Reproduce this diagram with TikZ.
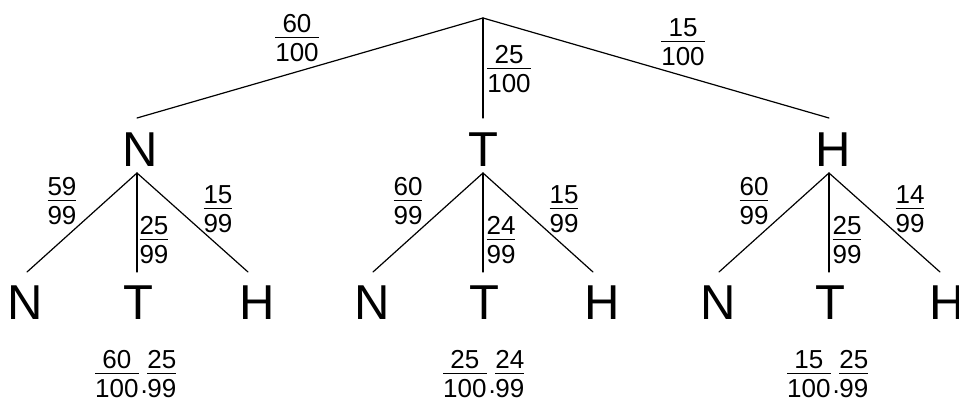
\documentclass[tikz,border=0pt]{standalone}
\usepackage{fontspec}
\setmainfont{Liberation Sans}
\newcommand\fr[2]{\vbox{\halign{\hfil##\hfil\cr #1\cr\noalign{\kern4.5pt\hrule height 1.4pt\kern5pt}#2\cr}}}
\newcommand\prodot{\kern2pt\raisebox{3.5pt}{.}\kern-0.5pt}
\tikzset{
  letter/.style={inner sep=0pt, anchor=base, font=\fontsize{49}{55}\selectfont},
  frac/.style={inner sep=0pt, anchor=base, yshift=-24.4pt, font=\fontsize{26}{30}\selectfont},
  prodlabel/.style={inner sep=0pt, anchor=base west, yshift=-24.4pt, font=\fontsize{26}{30}\selectfont},
  branch/.style={line width=1.2pt, line cap=round}
}
\begin{document}
\begin{tikzpicture}[x=1pt, y=-1pt]
\useasboundingbox (0,0) rectangle (959,399);
% tree points
\coordinate (r) at (483,18);
\coordinate (a1) at (137,118);
\coordinate (a2) at (483,118);
\coordinate (a3) at (829,118);
\coordinate (b1) at (137,173);
\coordinate (b2) at (483,173);
\coordinate (b3) at (829,173);
\coordinate (l11) at (27,272);
\coordinate (l12) at (137,272);
\coordinate (l13) at (248,272);
\coordinate (l21) at (373,272);
\coordinate (l22) at (483,272);
\coordinate (l23) at (593,272);
\coordinate (l31) at (719,272);
\coordinate (l32) at (829,272);
\coordinate (l33) at (940,272);
% branches
\draw[branch] (r) -- (a1);
\draw[branch] (r) -- (a2);
\draw[branch] (r) -- (a3);
\draw[branch] (b1) -- (l11);
\draw[branch] (b1) -- (l12);
\draw[branch] (b1) -- (l13);
\draw[branch] (b2) -- (l21);
\draw[branch] (b2) -- (l22);
\draw[branch] (b2) -- (l23);
\draw[branch] (b3) -- (l31);
\draw[branch] (b3) -- (l32);
\draw[branch] (b3) -- (l33);
% level 1 letters
\node[letter] (n1) at (140,166) {N};
\node[letter] (t1) at (483,166) {T};
\node[letter] (h1) at (833,166) {H};
% leaves
\node[letter] (n11) at (25,319) {N};
\node[letter] (t12) at (138,319) {T};
\node[letter] (h13) at (257,319) {H};
\node[letter] (n21) at (372,319) {N};
\node[letter] (t22) at (484,319) {T};
\node[letter] (h23) at (602,319) {H};
\node[letter] (n31) at (718,319) {N};
\node[letter] (t32) at (830,319) {T};
\node[letter] (h33) at (947,319) {H};
% first-level probabilities
\node[frac] (p1) at (297,37) {\fr{60}{100}};
\node[frac] (p2) at (509,68) {\fr{25}{100}};
\node[frac] (p3) at (683,41) {\fr{15}{100}};
% second-level probabilities
\node[frac] (q11) at (62,200) {\fr{59}{99}};
\node[frac] (q12) at (154,239) {\fr{25}{99}};
\node[frac] (q13) at (218,208) {\fr{15}{99}};
\node[frac] (q21) at (408,200) {\fr{60}{99}};
\node[frac] (q22) at (501,239) {\fr{24}{99}};
\node[frac] (q23) at (564,208) {\fr{15}{99}};
\node[frac] (q31) at (754,200) {\fr{60}{99}};
\node[frac] (q32) at (847,239) {\fr{25}{99}};
\node[frac] (q33) at (910,208) {\fr{14}{99}};
% products
\node[prodlabel] (m1) at (95,373) {\fr{60}{100}\prodot\fr{25}{99}};
\node[prodlabel] (m2) at (443,373) {\fr{25}{100}\prodot\fr{24}{99}};
\node[prodlabel] (m3) at (787,373) {\fr{15}{100}\prodot\fr{25}{99}};
\end{tikzpicture}
\end{document}
